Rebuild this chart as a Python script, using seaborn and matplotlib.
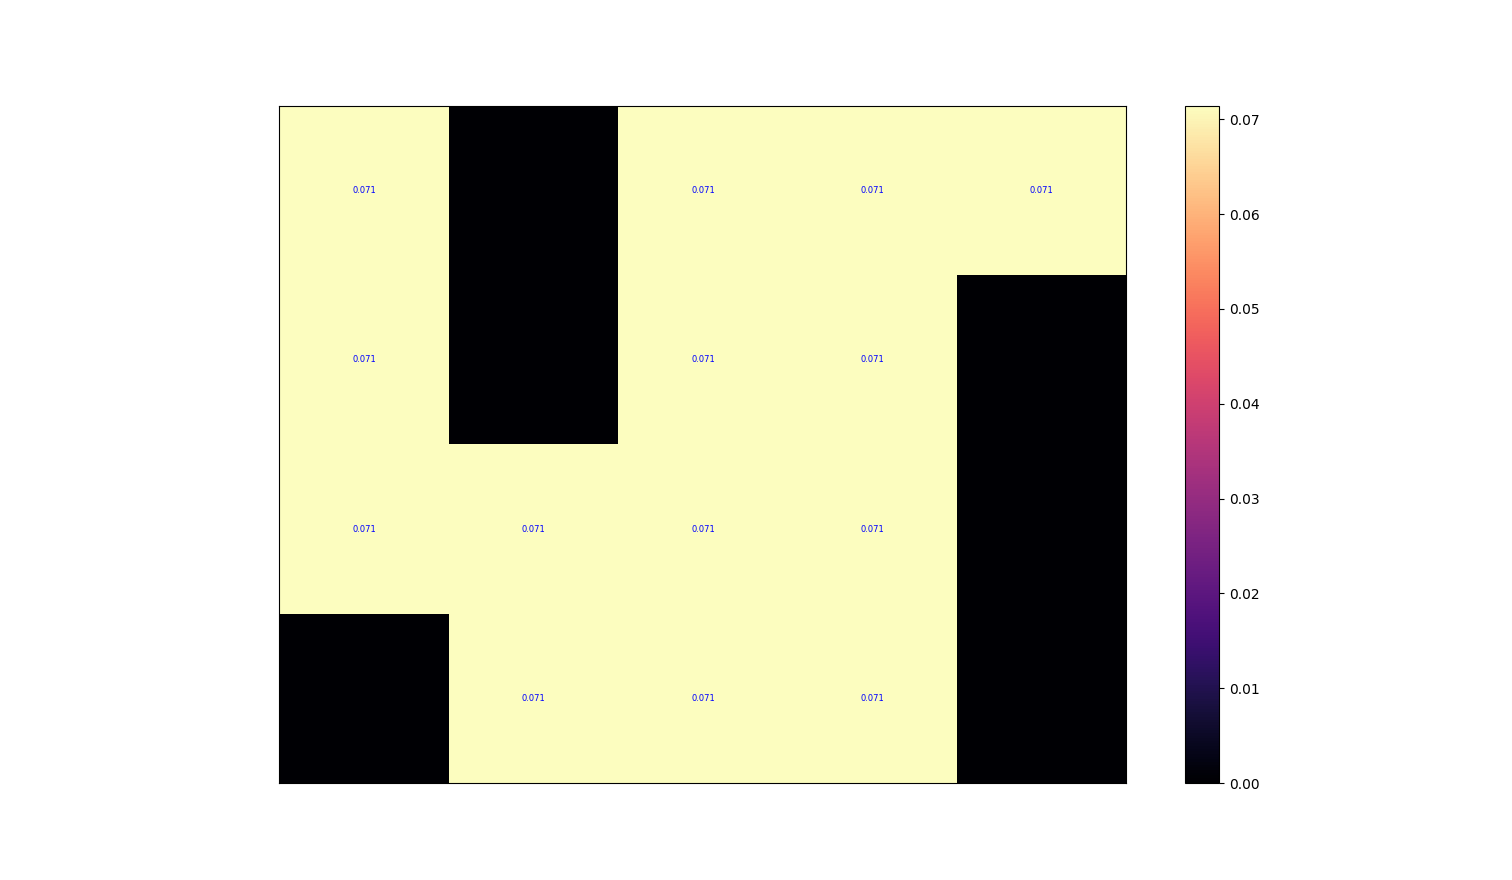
import numpy as np
import seaborn as sns
import matplotlib.pyplot as plt

# occupancy grid: 1 = visited cell, 0 = empty
grid = np.array([[1, 0, 1, 1, 1],
                 [1, 0, 1, 1, 0],
                 [1, 1, 1, 1, 0],
                 [0, 1, 1, 1, 0]], dtype=float)
probs = grid / grid.sum()  # each visited cell gets 1/14
labels = np.where(probs > 0, np.char.mod('%.3f', probs), '')

fig, ax = plt.subplots(figsize=(15.12, 8.8), dpi=100)

sns.heatmap(probs, ax=ax, cmap='magma', vmin=0, vmax=probs.max(),
            square=True, annot=labels, fmt='',
            annot_kws={'color': 'blue', 'fontsize': 6},
            xticklabels=False, yticklabels=False, cbar=True)

for spine in ax.spines.values():
    spine.set_visible(True)
    spine.set_color('black')
    spine.set_linewidth(0.8)

cbar = ax.collections[0].colorbar
cbar.outline.set_visible(True)
cbar.outline.set_edgecolor('black')
cbar.outline.set_linewidth(0.8)
cbar.set_ticks([0, 0.01, 0.02, 0.03, 0.04, 0.05, 0.06, 0.07])
cbar.ax.tick_params(labelsize=10)

plt.savefig('out.png', dpi=100)
